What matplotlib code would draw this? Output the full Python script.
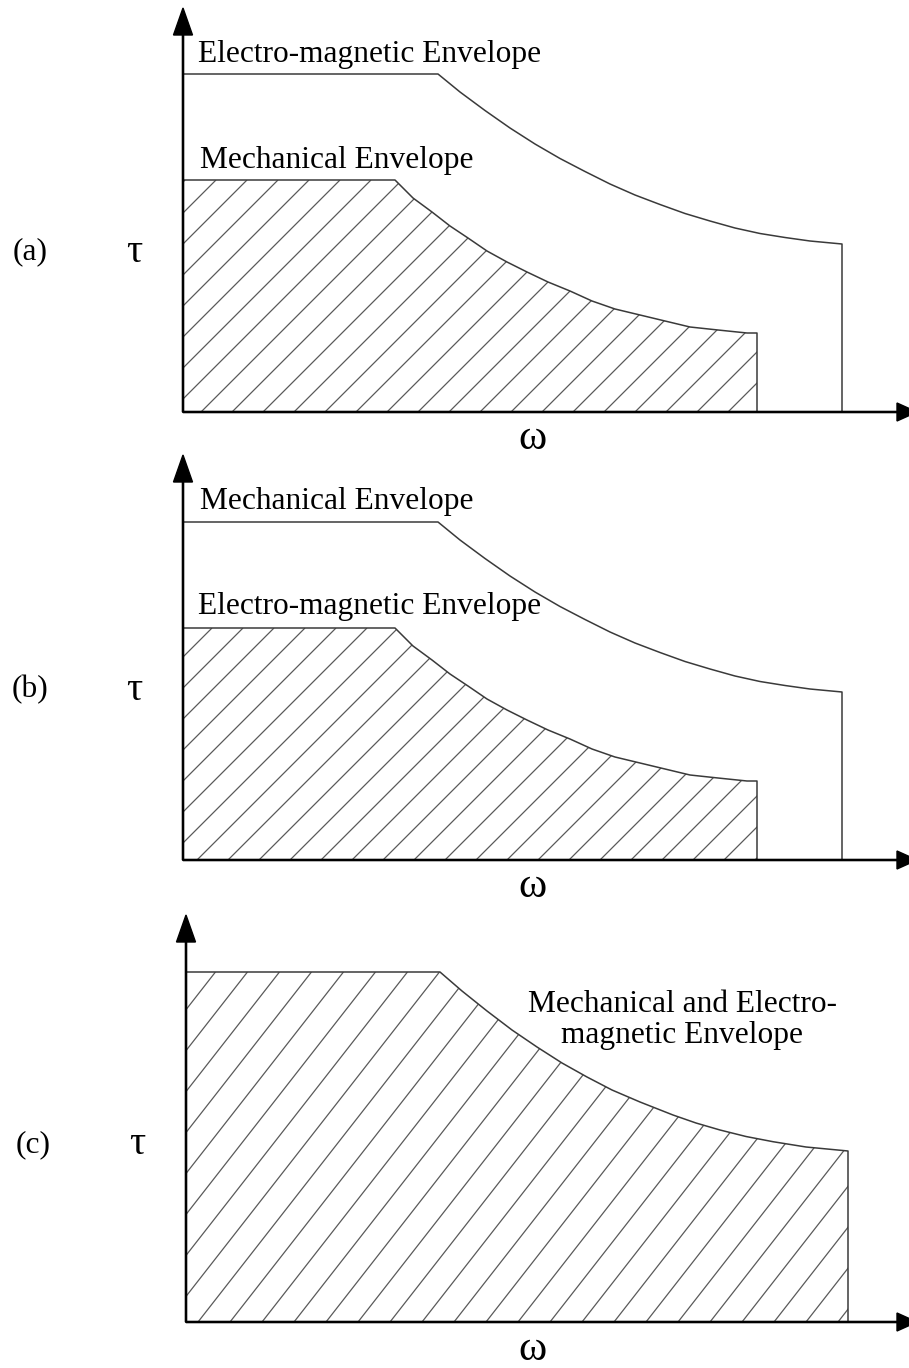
import numpy as np
import matplotlib.pyplot as plt
from matplotlib.patches import Polygon
from matplotlib.collections import LineCollection

W, H = 909, 1368
DPI = 100

# Torque-speed envelopes (omega, tau), drawing units
upper_w = [0, 255, 277, 302, 327, 352, 377, 402, 427, 452, 477, 502, 527, 552,
           577, 602, 627, 659]
upper_t = [338, 338, 320, 301.5, 284, 268, 253.5, 240.5, 228, 217, 207.5, 198.5,
           191, 184, 178.5, 174.5, 171, 168]

lower_w = [0, 212, 230, 249, 267, 285, 304, 324, 344, 365, 387, 409, 432, 457,
           482, 507, 535, 564, 574]
lower_t = [232, 232, 214, 200, 186, 174, 161, 150, 140, 130, 121, 111, 103, 97,
           91, 85, 82, 79, 79]

common_w = [0, 254, 276, 301, 326, 351, 376, 401, 426, 454, 487, 510, 534, 560,
            587, 620, 659, 662]
common_t = [350, 350, 331, 311, 292, 275, 259, 245, 232, 220, 207, 199, 192, 185.5,
            180.3, 175, 171.3, 171]

panel_tags = ["(a)", "(b)", "(c)"]
top_labels = ["Electro-magnetic Envelope", "Mechanical Envelope"]
common_label = "Mechanical and Electro-\nmagnetic Envelope"

plt.rcParams['font.family'] = ['Liberation Serif', 'DejaVu Serif']
FS = 22.6
LINE_C = '#3a3a3a'
HATCH_C = '#5a5a5a'

fig = plt.figure(figsize=(W / DPI, H / DPI), dpi=DPI)
fig.patch.set_facecolor('white')


def make_axes(ox, oy, top):
    ax = fig.add_axes([ox / W, (H - oy) / H, (W - ox) / W, (oy - top) / H])
    ax.set_xlim(0, W - ox)
    ax.set_ylim(0, oy - top)
    ax.axis('off')
    return ax


def draw_axes_arrows(ax, ox, oy, top):
    ax.arrow(0, 0, W - ox + 8, 0, width=1.2, head_width=18, head_length=20,
             length_includes_head=True, color='black', clip_on=False, zorder=5)
    ax.arrow(0, 0, 0, oy - top, width=1.2, head_width=19, head_length=27,
             length_includes_head=True, color='black', clip_on=False, zorder=5)


def envelope(ax, w, t, hatch=False, angle=45, spacing=31, phase=16):
    verts = list(zip(w, t)) + [(w[-1], 0), (0, 0)]
    ax.plot(list(w) + [w[-1]], list(t) + [0], color=LINE_C, lw=1.1,
            solid_joinstyle='round', clip_on=False, zorder=4)
    if hatch:
        poly = Polygon(verts, closed=True, facecolor='none', edgecolor='none')
        ax.add_patch(poly)
        tmax = max(t)
        run = tmax / np.tan(np.radians(angle))
        segs = []
        c = phase - spacing * int(run / spacing + 2)
        while c < w[-1] + spacing:
            segs.append([(c, 0), (c + run, tmax)])
            c += spacing
        lc = LineCollection(segs, colors=HATCH_C, linewidths=0.9, zorder=3)
        ax.add_collection(lc)
        lc.set_clip_path(poly)


def side_labels(ax, tag, tag_y, omega_x, omega_y):
    ax.text(-153, tag_y, tag, fontsize=FS, ha='center', va='center', clip_on=False)
    ax.text(-49, tag_y, "τ", fontsize=29, ha='center', va='center', clip_on=False)
    ax.text(omega_x, omega_y, "ω", fontsize=31, ha='center', va='center', clip_on=False)


# (a) electro-magnetic envelope above the mechanical one
ax = make_axes(183, 412, 8)
envelope(ax, upper_w, upper_t)
envelope(ax, lower_w, lower_t, hatch=True, phase=18)
draw_axes_arrows(ax, 183, 412, 8)
ax.text(15, 350, top_labels[0], fontsize=FS, ha='left', va='baseline')
ax.text(17, 244, top_labels[1], fontsize=FS, ha='left', va='baseline')
side_labels(ax, panel_tags[0], 160, 349, -27)

# (b) mechanical envelope above the electro-magnetic one
ax = make_axes(183, 860, 455)
envelope(ax, upper_w, upper_t)
envelope(ax, lower_w, lower_t, hatch=True, phase=14)
draw_axes_arrows(ax, 183, 860, 455)
ax.text(17, 351, top_labels[1], fontsize=FS, ha='left', va='baseline')
ax.text(15, 246, top_labels[0], fontsize=FS, ha='left', va='baseline')
side_labels(ax, panel_tags[1], 170, 349, -27)

# (c) coincident envelopes
ax = make_axes(186, 1322, 915)
envelope(ax, common_w, common_t, hatch=True, angle=52, spacing=32, phase=12)
draw_axes_arrows(ax, 186, 1322, 915)
ax.text(496, 302, common_label, fontsize=FS, ha='center', va='center',
        multialignment='center', linespacing=1.05)
side_labels(ax, panel_tags[2], 177, 346, -28)

fig.savefig('out.png', dpi=DPI, facecolor='white')
